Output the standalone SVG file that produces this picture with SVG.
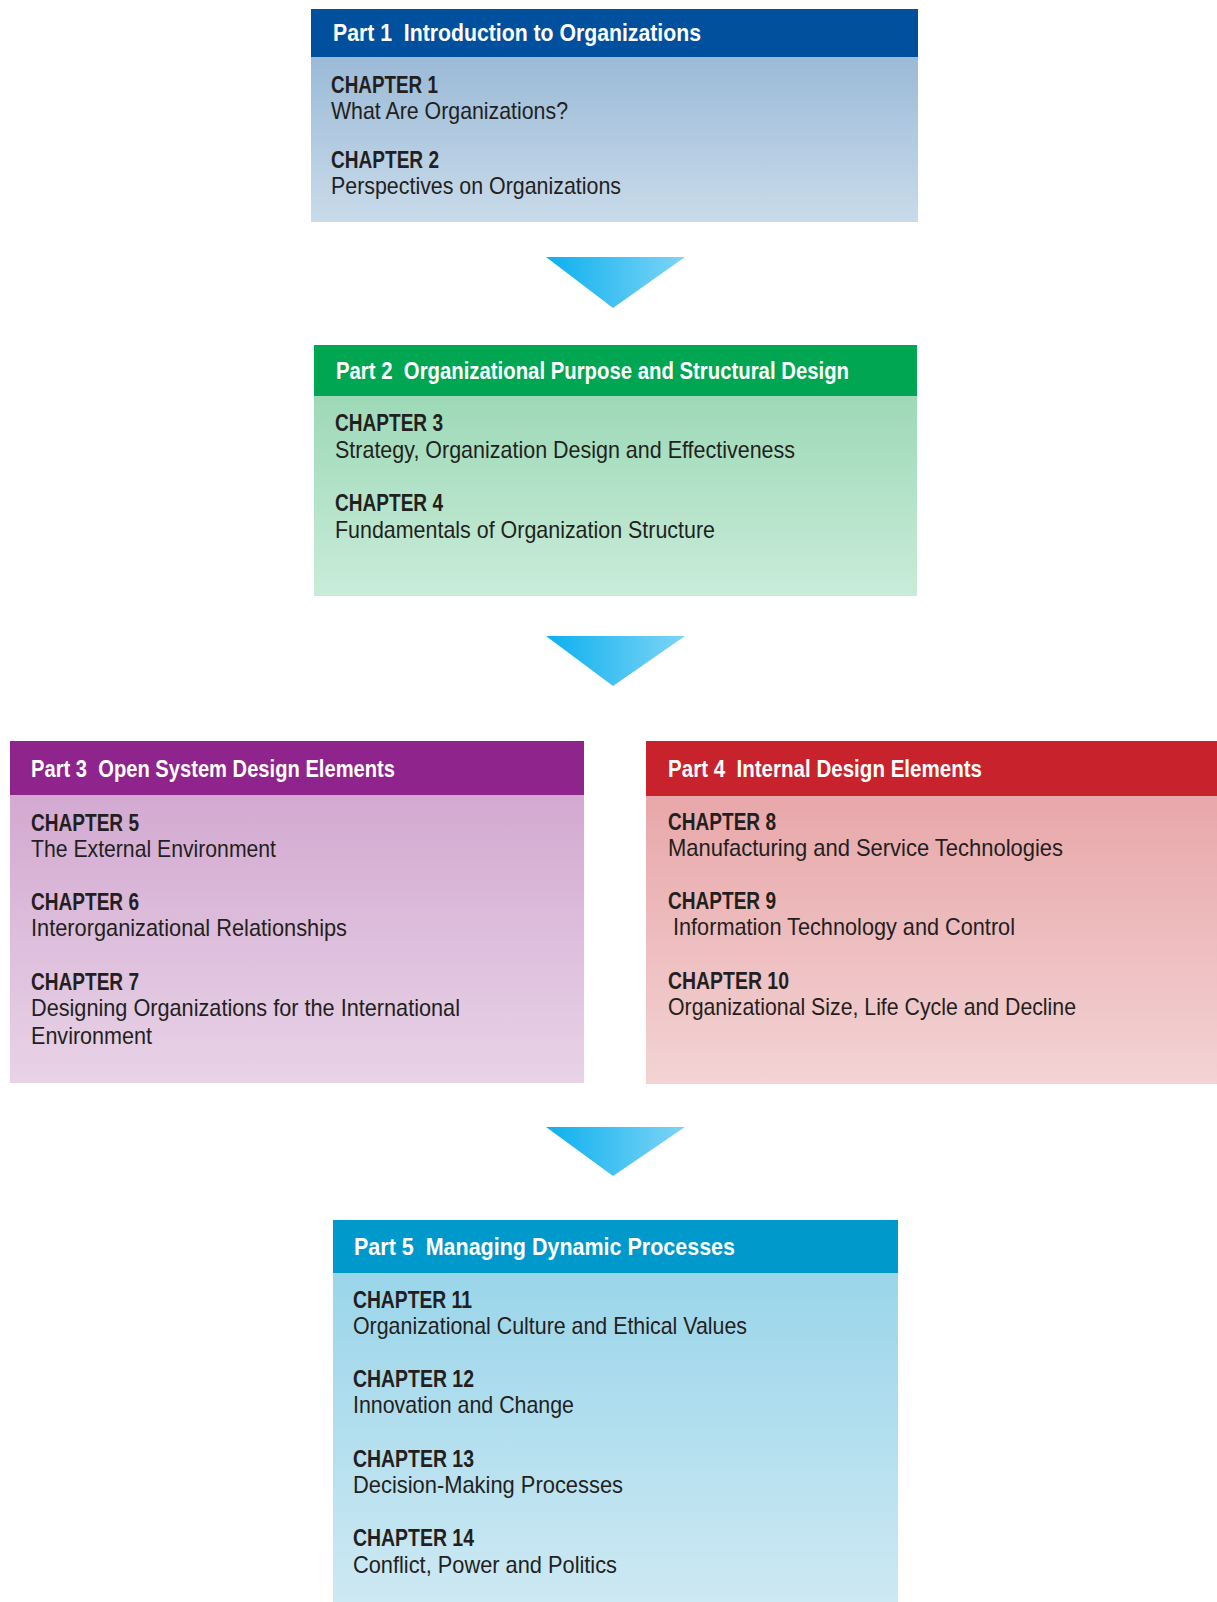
<svg xmlns="http://www.w3.org/2000/svg" width="1217" height="1602" viewBox="0 0 1217 1602">
<defs>
<style>
text{white-space:pre}
.hd{font-family:"Liberation Sans",Arial,sans-serif;font-weight:bold;font-size:24px;fill:#ffffff}
.ch{font-family:"Liberation Sans",Arial,sans-serif;font-weight:bold;font-size:24px;fill:#231f20}
.tx{font-family:"Liberation Sans",Arial,sans-serif;font-size:24px;fill:#231f20}
</style>
<linearGradient id="g1" x1="0" y1="0" x2="0" y2="1"><stop offset="0" stop-color="#9bbad7"/><stop offset="1" stop-color="#c9dbea"/></linearGradient>
<linearGradient id="g2" x1="0" y1="0" x2="0" y2="1"><stop offset="0" stop-color="#9dd9b7"/><stop offset="1" stop-color="#c9ecd9"/></linearGradient>
<linearGradient id="g3" x1="0" y1="0" x2="0" y2="1"><stop offset="0" stop-color="#d3a9d1"/><stop offset="1" stop-color="#e8d3e7"/></linearGradient>
<linearGradient id="g4" x1="0" y1="0" x2="0" y2="1"><stop offset="0" stop-color="#e8a7aa"/><stop offset="1" stop-color="#f3d3d4"/></linearGradient>
<linearGradient id="g5" x1="0" y1="0" x2="0" y2="1"><stop offset="0" stop-color="#9ad5ea"/><stop offset="1" stop-color="#cde9f3"/></linearGradient>
<linearGradient id="ga" x1="0" y1="0" x2="1" y2="0"><stop offset="0" stop-color="#0cb0ee"/><stop offset="1" stop-color="#7ed4f6"/></linearGradient>
</defs>
<rect width="1217" height="1602" fill="#ffffff"/>

<g id="connectors">
<polygon points="546,257 685,257 613,308" fill="url(#ga)"/>
<polygon points="546,636 685,636 613,686" fill="url(#ga)"/>
<polygon points="546,1127 685,1127 613,1176" fill="url(#ga)"/>
</g>

<g id="part1">
<rect x="311" y="57" width="607" height="165" fill="url(#g1)"/>
<rect x="311" y="9" width="607" height="48" fill="#00509e"/>
<text class="hd" x="333" y="40.5" textLength="368" lengthAdjust="spacingAndGlyphs">Part 1  Introduction to Organizations</text>
<text class="ch" x="331" y="92.5" textLength="107" lengthAdjust="spacingAndGlyphs">CHAPTER 1</text>
<text class="tx" x="331" y="118.5" textLength="237" lengthAdjust="spacingAndGlyphs">What Are Organizations?</text>
<text class="ch" x="331" y="168" textLength="108" lengthAdjust="spacingAndGlyphs">CHAPTER 2</text>
<text class="tx" x="331" y="194" textLength="290" lengthAdjust="spacingAndGlyphs">Perspectives on Organizations</text>
</g>

<g id="part2">
<rect x="314" y="396" width="603" height="200" fill="url(#g2)"/>
<rect x="314" y="345" width="603" height="51" fill="#00a651"/>
<text class="hd" x="336" y="379" textLength="513" lengthAdjust="spacingAndGlyphs">Part 2  Organizational Purpose and Structural Design</text>
<text class="ch" x="335" y="431" textLength="108" lengthAdjust="spacingAndGlyphs">CHAPTER 3</text>
<text class="tx" x="335" y="458" textLength="460" lengthAdjust="spacingAndGlyphs">Strategy, Organization Design and Effectiveness</text>
<text class="ch" x="335" y="511" textLength="108" lengthAdjust="spacingAndGlyphs">CHAPTER 4</text>
<text class="tx" x="335" y="538" textLength="380" lengthAdjust="spacingAndGlyphs">Fundamentals of Organization Structure</text>
</g>

<g id="part3">
<rect x="10" y="795" width="574" height="288" fill="url(#g3)"/>
<rect x="10" y="741" width="574" height="54" fill="#8e248c"/>
<text class="hd" x="31" y="776.5" textLength="364" lengthAdjust="spacingAndGlyphs">Part 3  Open System Design Elements</text>
<text class="ch" x="31" y="830.5" textLength="108" lengthAdjust="spacingAndGlyphs">CHAPTER 5</text>
<text class="tx" x="31" y="856.5" textLength="245" lengthAdjust="spacingAndGlyphs">The External Environment</text>
<text class="ch" x="31" y="910" textLength="108" lengthAdjust="spacingAndGlyphs">CHAPTER 6</text>
<text class="tx" x="31" y="936" textLength="316" lengthAdjust="spacingAndGlyphs">Interorganizational Relationships</text>
<text class="ch" x="31" y="990" textLength="108" lengthAdjust="spacingAndGlyphs">CHAPTER 7</text>
<text class="tx" x="31" y="1016" textLength="429" lengthAdjust="spacingAndGlyphs">Designing Organizations for the International</text>
<text class="tx" x="31" y="1044" textLength="121" lengthAdjust="spacingAndGlyphs">Environment</text>
</g>

<g id="part4">
<rect x="646" y="796" width="571" height="288" fill="url(#g4)"/>
<rect x="646" y="741" width="571" height="55" fill="#c8222c"/>
<text class="hd" x="668" y="776.5" textLength="314" lengthAdjust="spacingAndGlyphs">Part 4  Internal Design Elements</text>
<text class="ch" x="668" y="830" textLength="108" lengthAdjust="spacingAndGlyphs">CHAPTER 8</text>
<text class="tx" x="668" y="856" textLength="395" lengthAdjust="spacingAndGlyphs">Manufacturing and Service Technologies</text>
<text class="ch" x="668" y="909" textLength="108" lengthAdjust="spacingAndGlyphs">CHAPTER 9</text>
<text class="tx" x="673" y="935" textLength="342" lengthAdjust="spacingAndGlyphs">Information Technology and Control</text>
<text class="ch" x="668" y="989" textLength="121" lengthAdjust="spacingAndGlyphs">CHAPTER 10</text>
<text class="tx" x="668" y="1015" textLength="408" lengthAdjust="spacingAndGlyphs">Organizational Size, Life Cycle and Decline</text>
</g>

<g id="part5">
<rect x="333" y="1273" width="565" height="329" fill="url(#g5)"/>
<rect x="333" y="1220" width="565" height="53" fill="#0099cc"/>
<text class="hd" x="354" y="1254.5" textLength="381" lengthAdjust="spacingAndGlyphs">Part 5  Managing Dynamic Processes</text>
<text class="ch" x="353" y="1307.5" textLength="119" lengthAdjust="spacingAndGlyphs">CHAPTER 11</text>
<text class="tx" x="353" y="1333.5" textLength="394" lengthAdjust="spacingAndGlyphs">Organizational Culture and Ethical Values</text>
<text class="ch" x="353" y="1387" textLength="121" lengthAdjust="spacingAndGlyphs">CHAPTER 12</text>
<text class="tx" x="353" y="1413" textLength="221" lengthAdjust="spacingAndGlyphs">Innovation and Change</text>
<text class="ch" x="353" y="1466.5" textLength="121" lengthAdjust="spacingAndGlyphs">CHAPTER 13</text>
<text class="tx" x="353" y="1493" textLength="270" lengthAdjust="spacingAndGlyphs">Decision-Making Processes</text>
<text class="ch" x="353" y="1546" textLength="121" lengthAdjust="spacingAndGlyphs">CHAPTER 14</text>
<text class="tx" x="353" y="1573" textLength="264" lengthAdjust="spacingAndGlyphs">Conflict, Power and Politics</text>
</g>
</svg>
